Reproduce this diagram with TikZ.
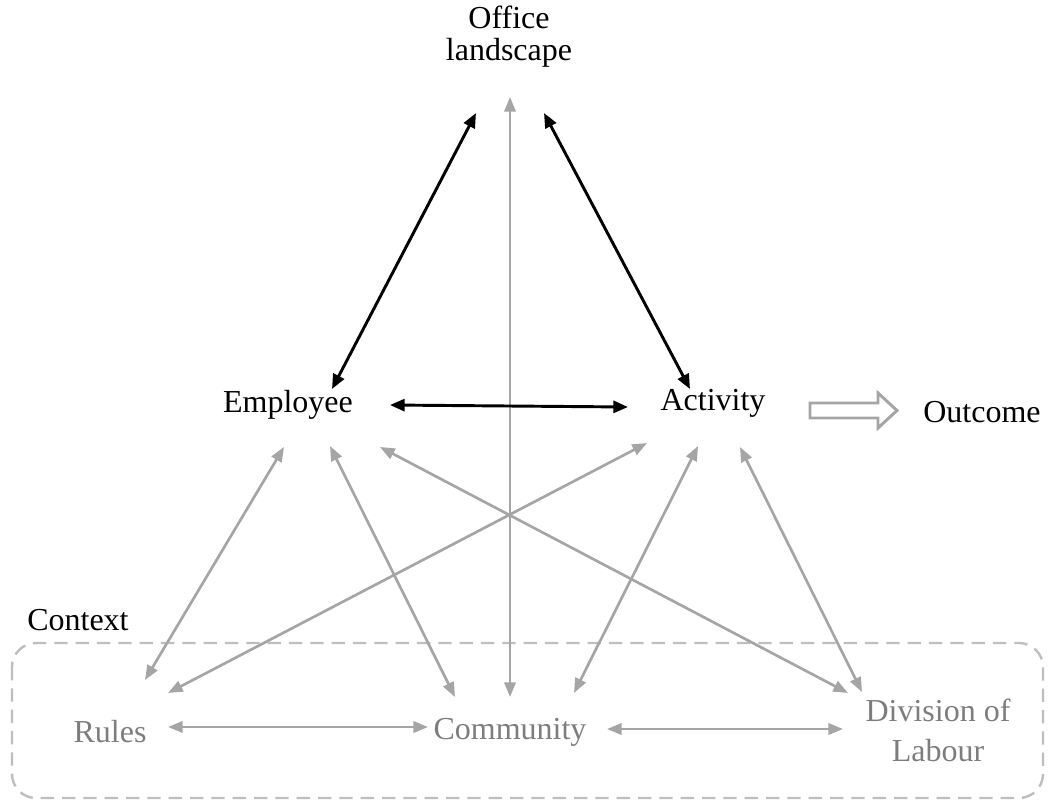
\documentclass[tikz,border=0pt]{standalone}
\usepackage{fontspec}
\setmainfont{Liberation Serif}
\usetikzlibrary{arrows.meta}
\definecolor{arrgray}{RGB}{165,165,165}
\definecolor{txtgray}{RGB}{125,125,125}
\definecolor{boxgray}{RGB}{190,190,190}
\tikzset{
  lbl/.style={font=\fontsize{24}{24}\selectfont, align=center, inner sep=0pt},
  glbl/.style={lbl, text=txtgray},
  blk/.style={line width=2.2pt, {Triangle[length=11pt,width=9pt]}-{Triangle[length=11pt,width=9pt]}},
  gry/.style={line width=2pt, draw=arrgray, {Triangle[length=11pt,width=8.5pt]}-{Triangle[length=11pt,width=8.5pt]}},
}
\begin{document}
\begin{tikzpicture}[x=0.75pt,y=-0.75pt]
\useasboundingbox (0,0) rectangle (1049,800);
% context box
\draw[boxgray, line width=1.8pt, dash pattern=on 10pt off 6pt, rounded corners=18pt] (12,643) rectangle (1043,798);
\node[lbl, anchor=west] (ctx) at (27,620) {Context};
% nodes
\node[lbl] (off) at (509,37) {Office\\landscape};
\node[lbl] (emp) at (288,405) {Employee};
\node[lbl] (act) at (713,403) {Activity};
\node[lbl] (out) at (982,412) {Outcome};
\node[glbl] (rul) at (110,732) {Rules};
\node[glbl] (com) at (510,732) {Community};
\node[glbl, font=\fontsize{24}{30}\selectfont] (div) at (938,730) {Division of\\Labour};
% anchor coordinates
\coordinate (o1) at (476,113); \coordinate (o2) at (544,113); \coordinate (o3) at (510,97);
\coordinate (e1) at (332,389); \coordinate (e2) at (390,405);
\coordinate (a1) at (690,389); \coordinate (a2) at (628,407);
\coordinate (e3) at (284,447); \coordinate (e4) at (330,446); \coordinate (e5) at (380,447);
\coordinate (a3) at (647,443); \coordinate (a4) at (698,446); \coordinate (a5) at (740,447);
\coordinate (r1) at (145,680); \coordinate (r2) at (168,693); \coordinate (r3) at (168,727);
\coordinate (c1) at (455,697); \coordinate (c2) at (510,697); \coordinate (c3) at (574,693);
\coordinate (c4) at (428,727); \coordinate (c5) at (607,729);
\coordinate (d1) at (848,693); \coordinate (d2) at (862,692); \coordinate (d3) at (843,729);
% gray arrows
\draw[gry] (o3) -- (c2);
\draw[gry] (e3) -- (r1);
\draw[gry] (a3) -- (r2);
\draw[gry] (e4) -- (c1);
\draw[gry] (e5) -- (d1);
\draw[gry] (a4) -- (c3);
\draw[gry] (a5) -- (d2);
\draw[gry] (r3) -- (c4);
\draw[gry] (c5) -- (d3);
% black arrows
\draw[blk] (e1) -- (o1);
\draw[blk] (a1) -- (o2);
\draw[blk] (e2) -- (a2);
% outcome arrow
\draw[draw=arrgray, line width=2.2pt, fill=white, line join=miter]
  (810,403) -- (878,403) -- (878,393) -- (897,410.5) -- (878,428) -- (878,418) -- (810,418) -- cycle;
\end{tikzpicture}
\end{document}
